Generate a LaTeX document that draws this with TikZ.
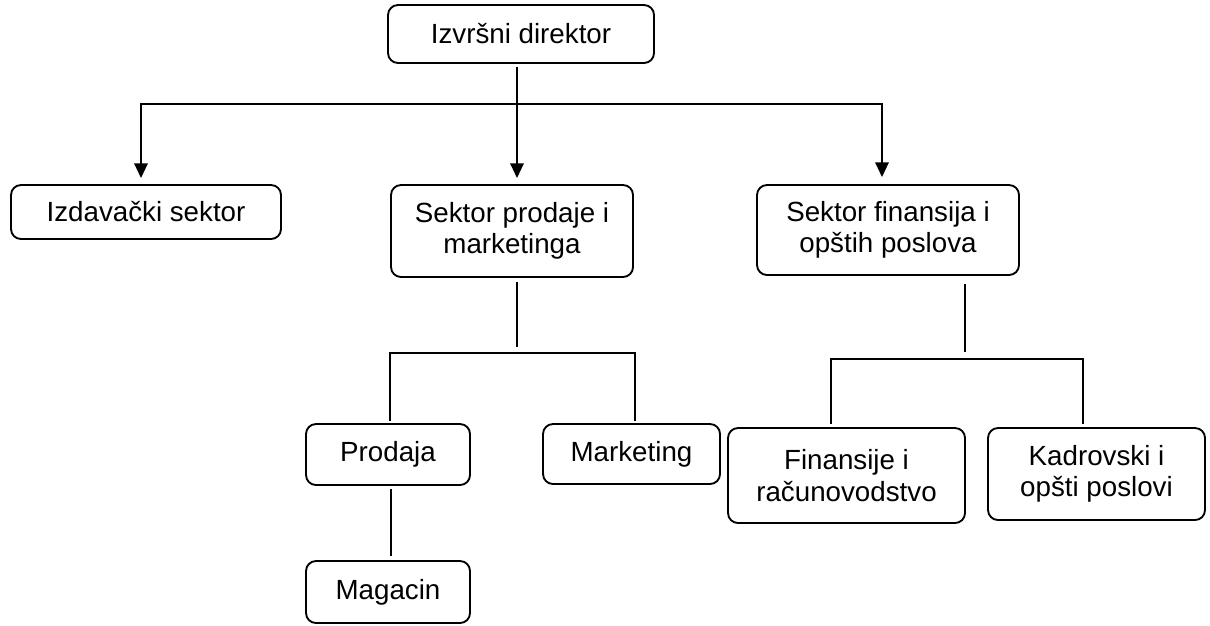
\documentclass[tikz,border=0pt]{standalone}
\usepackage{fontspec}
\setmainfont{Liberation Sans}
\usetikzlibrary{%
   arrows.meta,%
   calc,%
   positioning}

\begin{document}
\begin{tikzpicture}
[x=0.75pt, y=-0.75pt,
 unit/.style={rectangle,draw,rounded corners=7.5pt,line width=1.4pt,inner sep=0pt,align=center,font=\fontsize{20.8}{23.5}\selectfont},
 line/.style={line width=1.4pt},
 arr/.style={line width=1.4pt,-{Triangle[length=11pt,width=10pt]}},
 hv path/.style={line width=1.4pt, to path={-| (\tikztotarget)}}]
\useasboundingbox (0,0) rectangle (1210,625);
\node[unit,minimum width=199.5pt,minimum height=43.5pt] (dir)  at ( 521  , 34  ) {Izvršni direktor};
\node[unit,minimum width=202.5pt,minimum height=40.5pt] (izd)  at ( 146  ,212  ) {Izdavački sektor};
\node[unit,minimum width=181.5pt,minimum height=69pt]   (spm)  at ( 512  ,231  ) {Sektor prodaje i\\marketinga};
\node[unit,minimum width=196.5pt,minimum height=67.5pt] (sfp)  at ( 888  ,230  ) {Sektor finansija i\\opštih poslova};
\node[unit,minimum width=123pt,minimum height=45.75pt]  (prod) at ( 388  ,454.5) {Prodaja};
\node[unit,minimum width=132.75pt,minimum height=45pt]  (mark) at ( 631.5,454  ) {Marketing};
\node[unit,minimum width=123pt,minimum height=46.5pt]   (mag)  at ( 388  ,592  ) {Magacin};
\node[unit,minimum width=177.75pt,minimum height=71.25pt] (fin) at ( 846.5,475.5) {Finansije i\\računovodstvo};
\node[unit,minimum width=162.75pt,minimum height=69pt]  (kad)  at (1096.5,474  ) {Kadrovski i\\opšti poslovi};
\coordinate (dirBus) at ( 517,104);
\coordinate (spmBus) at ( 517,353);
\coordinate (sfpBus) at ( 965,359);
% top level
\path (dir.south -| dirBus) edge[line,shorten <=2.25pt] (dirBus)
      (dirBus)  edge[arr,shorten >=4.5pt] (spm.north -| dirBus)
                edge[hv path,arr,shorten >=4.5pt] ([xshift=-3.75pt]izd.north)
                edge[hv path,arr,shorten >=5.25pt] ([xshift=-4.5pt]sfp.north);
% sales and marketing
\path (spm.south -| spmBus) edge[line,shorten <=3pt,shorten >=4.5pt] (spmBus)
      (spmBus)  edge[hv path,shorten >=1.5pt] ([xshift=1.5pt]prod.north)
                edge[hv path,shorten >=1.5pt] ([xshift=2.6pt]mark.north)
      (prod.south -| 391,0) edge[line,shorten <=2.25pt,shorten >=3pt] (mag.north -| 391,0);
% finance
\path (sfp.south -| sfpBus) edge[line,shorten <=6pt,shorten >=5.25pt] (sfpBus)
      (sfpBus)  edge[hv path,shorten >=2.25pt] ([xshift=-11.6pt]fin.north)
                edge[hv path,shorten >=2.25pt] ([xshift=-10pt]kad.north);
\end{tikzpicture}
\end{document}
